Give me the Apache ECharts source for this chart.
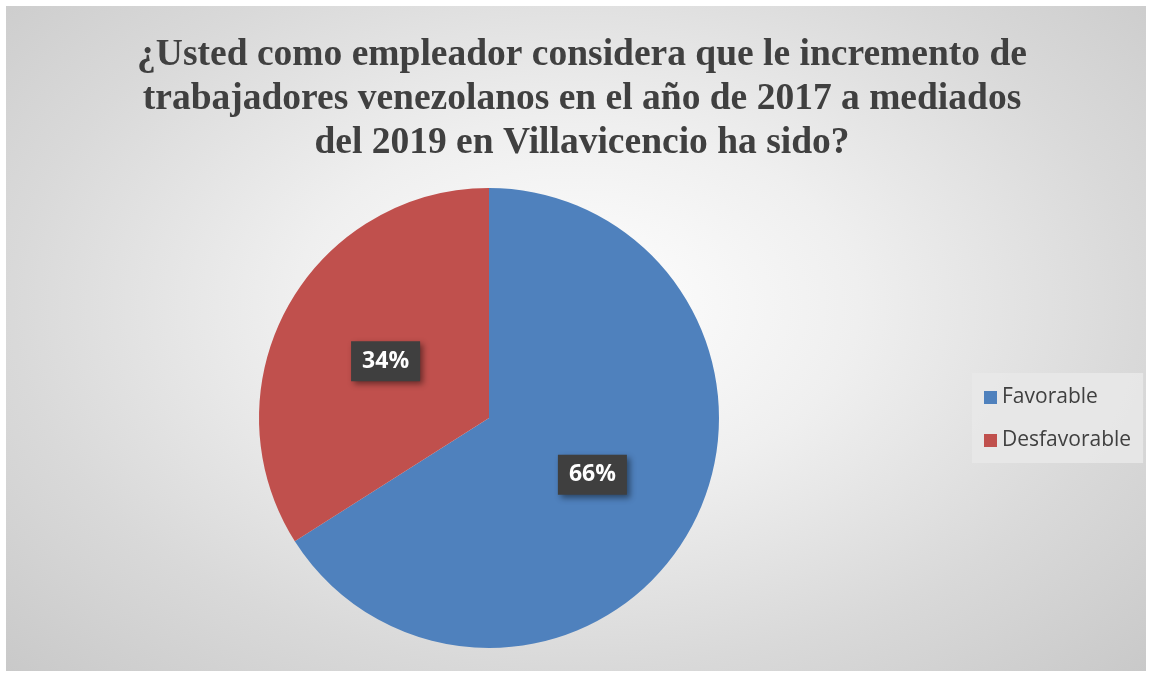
<!DOCTYPE html>
<html>
<head>
<meta charset="utf-8">
<script src="https://cdn.jsdelivr.net/npm/echarts@6/dist/echarts.min.js"></script>
<style>
html,body{margin:0;padding:0;background:#ffffff;width:1152px;height:674px;overflow:hidden;}
#wrap{position:absolute;left:6px;top:6px;width:1140px;height:665px;
background:radial-gradient(ellipse at 50% 45%, #ffffff 0%, #efefef 35%, #d9d9d9 70%, #c9c9c9 100%);}
#chart{width:1140px;height:665px;}
</style>
</head>
<body>
<div id="wrap"><div id="chart"></div></div>
<script>
const titleLines = ["¿Usted como empleador considera que le incremento de", "trabajadores venezolanos en el año de 2017 a mediados", "del 2019 en Villavicencio ha sido?"];
const categories = ["Favorable", "Desfavorable"];
const values = [66, 34];
const colors = ["#4f81bd", "#c0504d"];

const chart = echarts.init(document.getElementById('chart'), null, {renderer: 'canvas'});
chart.setOption({
  backgroundColor: 'transparent',
  animation: false,
  title: {
    text: titleLines.join('\n'),
    left: 571,
    top: 22,
    textAlign: 'center',
    textStyle: {
      fontFamily: '"Liberation Serif", "Times New Roman", serif',
      fontWeight: 'bold',
      fontSize: 37.5,
      lineHeight: 44,
      color: '#404040'
    }
  },
  legend: {
    orient: 'vertical',
    left: 966,
    top: 367,
    width: 172,
    padding: [14, 12, 12, 12],
    backgroundColor: 'rgba(232,232,232,0.9)',
    itemWidth: 13,
    itemHeight: 13,
    itemGap: 22,
    icon: 'rect',
    data: categories,
    textStyle: {
      fontFamily: '"Open Sans", "Noto Sans", sans-serif',
      fontSize: 21,
      color: '#404040',
      padding: [0, 6, 0, 0]
    }
  },
  series: [{
    type: 'pie',
    center: [483, 412],
    radius: [0, 230],
    startAngle: 90,
    clockwise: true,
    color: colors,
    data: categories.map((c, i) => ({name: c, value: values[i]})),
    label: {
      show: true,
      position: 'inside',
      formatter: p => Math.round(p.percent) + '%',
      fontFamily: '"Open Sans", "Noto Sans", sans-serif',
      fontWeight: 'bold',
      fontSize: 23,
      color: '#ffffff',
      backgroundColor: '#3f3f3f',
      padding: [10, 11, 7, 11],
      shadowColor: 'rgba(0,0,0,0.45)',
      shadowBlur: 6,
      shadowOffsetX: 3,
      shadowOffsetY: 3
    },
    labelLine: {show: false},
    itemStyle: {borderWidth: 0},
    emphasis: {disabled: true}
  }]
});
</script>
</body>
</html>
